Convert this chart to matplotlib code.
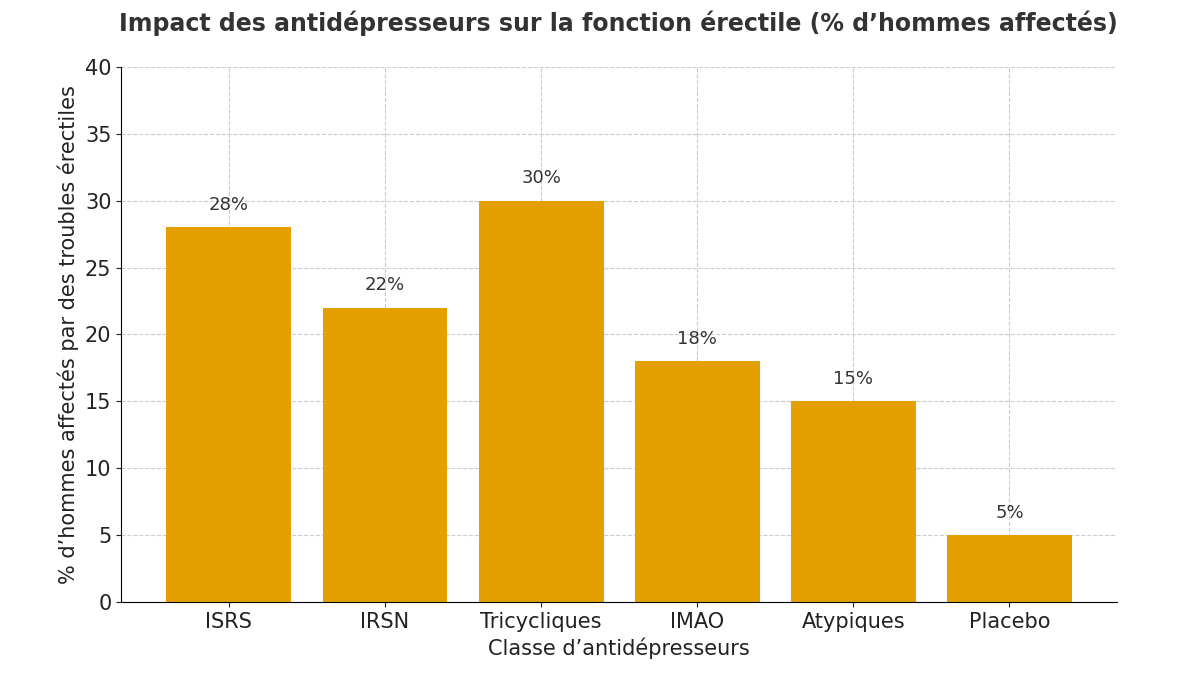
import matplotlib
matplotlib.use("Agg")
import matplotlib.pyplot as plt

categories = ["ISRS", "IRSN", "Tricycliques", "IMAO", "Atypiques", "Placebo"]
values = [28, 22, 30, 18, 15, 5]
labels = [f"{v}%" for v in values]

fig = plt.figure(figsize=(12, 6.75), dpi=100)
ax = fig.add_axes([0.101, 0.108, 0.830, 0.793])
bars = ax.bar(categories, values, color="#E3A000", width=0.8, zorder=2)
for b, l in zip(bars, labels):
    ax.text(b.get_x() + b.get_width() / 2, b.get_height() + 1.0, l,
            ha="center", va="bottom", fontsize=13, color="#333333")
ax.set_ylim(0, 40)
ax.set_yticks(range(0, 41, 5))
ax.grid(True, linestyle="--", color="#cccccc", linewidth=0.8, zorder=0)
ax.set_axisbelow(True)
ax.spines["top"].set_visible(False)
ax.spines["right"].set_visible(False)
ax.tick_params(labelsize=15, colors="#222222")
ax.set_xlabel("Classe d’antidépresseurs", fontsize=15, color="#222222")
ax.set_ylabel("% d’hommes affectés par des troubles érectiles", fontsize=15, color="#222222")
fig.suptitle("Impact des antidépresseurs sur la fonction érectile (% d’hommes affectés)",
             fontsize=17, fontweight="bold", color="#333333", x=0.515, y=0.985)
fig.savefig("out.png", dpi=100)
